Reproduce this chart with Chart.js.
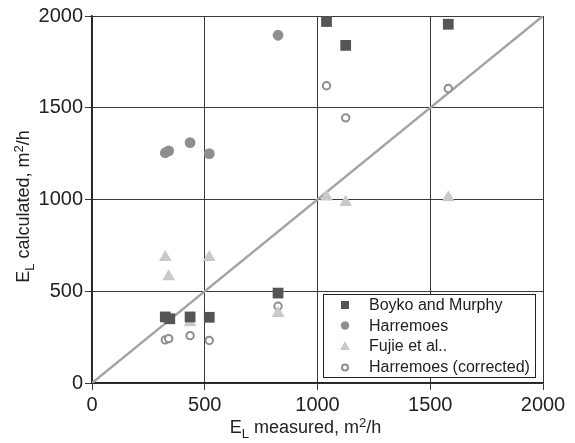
<!DOCTYPE html>
<html>
<head>
<meta charset="utf-8">
<script src="https://cdn.jsdelivr.net/npm/chart.js@4/dist/chart.umd.min.js"></script>
<style>
  html, body { margin: 0; padding: 0; background: #fff; }
  #wrap { width: 575px; height: 443px; }
</style>
</head>
<body>
<div id="wrap"><canvas id="chart" width="575" height="443"></canvas></div>
<script>
//? Data: E_L measured (x) vs E_L calculated (y), m2/h
const boykoX = [325, 345, 435, 520, 825, 1040, 1125, 1580];
const boykoY = [360, 350, 360, 358, 490, 1970, 1840, 1955];

const harrX = [325, 340, 435, 520, 825];
const harrY = [1255, 1265, 1310, 1250, 1895];

const fujieX = [325, 340, 435, 520, 825, 1040, 1125, 1580];
const fujieY = [685, 580, 330, 685, 380, 1015, 985, 1010];

const corrX = [325, 340, 435, 520, 825, 1040, 1125, 1580];
const corrY = [235, 242, 258, 232, 418, 1620, 1445, 1605];

// 1:1 line
const lineX = [0, 2000];
const lineY = [0, 2000];

const tickVals = [0, 500, 1000, 1500, 2000];

const FONT = "'Liberation Sans', Arial, Helvetica, sans-serif";

const pts = (xs, ys) => xs.map((x, i) => ({ x: x, y: ys[i] }));

// draws text made of pieces (subscript / superscript)
function drawRich(ctx, parts, cx, cy) {
  let w = 0;
  parts.forEach(p => {
    ctx.font = `${p.size}px ${FONT}`;
    p.w = ctx.measureText(p.t).width;
    w += p.w;
  });
  let x = cx - w / 2;
  parts.forEach(p => {
    ctx.font = `${p.size}px ${FONT}`;
    ctx.fillText(p.t, x, cy + (p.dy || 0));
    x += p.w;
  });
}

const titles = {
  id: 'titles',
  afterDraw(chart) {
    const ctx = chart.ctx;
    const a = chart.chartArea;
    ctx.save();
    ctx.fillStyle = '#222';
    ctx.textAlign = 'left';
    ctx.textBaseline = 'alphabetic';
    drawRich(ctx, [
      { t: 'E', size: 18 },
      { t: 'L', size: 13, dy: 5 },
      { t: ' measured, m', size: 18 },
      { t: '2', size: 13, dy: -6 },
      { t: '/h', size: 18 }
    ], (a.left + a.right) / 2 - 12, a.bottom + 50);

    ctx.translate(29, (a.top + a.bottom) / 2 + 7);
    ctx.rotate(-Math.PI / 2);
    drawRich(ctx, [
      { t: 'E', size: 18 },
      { t: 'L', size: 13, dy: 5 },
      { t: ' calculated, m', size: 18 },
      { t: '2', size: 13, dy: -6 },
      { t: '/h', size: 18 }
    ], 0, 0);
    ctx.restore();
  }
};

// legend box inside the plot, bottom right
const boxLegend = {
  id: 'boxLegend',
  afterDraw(chart) {
    const ctx = chart.ctx;
    const a = chart.chartArea;
    const sets = chart.data.datasets.filter(d => d.type !== 'line');
    const right = a.right - 8, bottom = a.bottom - 6;
    const left = right - 212, top = bottom - 83;
    ctx.save();
    ctx.fillStyle = '#fff';
    ctx.fillRect(left, top, right - left, bottom - top);
    ctx.strokeStyle = '#222';
    ctx.lineWidth = 1;
    ctx.strokeRect(left + 0.5, top + 0.5, right - left, bottom - top);
    ctx.font = `16px ${FONT}`;
    ctx.textBaseline = 'middle';
    sets.forEach((d, i) => {
      const y = top + 11 + i * 20.5;
      const x = left + 22;
      ctx.fillStyle = d.backgroundColor;
      ctx.strokeStyle = d.borderColor;
      if (d.pointStyle === 'rect') {
        ctx.fillRect(x - 4, y - 4, 8, 8);
      } else if (d.pointStyle === 'triangle') {
        ctx.beginPath();
        ctx.moveTo(x, y - 5);
        ctx.lineTo(x + 5, y + 4);
        ctx.lineTo(x - 5, y + 4);
        ctx.closePath();
        ctx.fill();
      } else if (d.pointBorderWidth > 0) {
        ctx.lineWidth = 2;
        ctx.beginPath();
        ctx.arc(x, y + 1, 3, 0, Math.PI * 2);
        ctx.fill();
        ctx.stroke();
      } else {
        ctx.beginPath();
        ctx.arc(x, y, 4.2, 0, Math.PI * 2);
        ctx.fill();
      }
      ctx.fillStyle = '#222';
      ctx.fillText(d.label, left + 46, y + 1);
    });
    ctx.restore();
  }
};

const ctx = document.getElementById('chart').getContext('2d');
new Chart(ctx, {
  type: 'scatter',
  data: {
    datasets: [
      {
        label: 'Boyko and Murphy',
        data: pts(boykoX, boykoY),
        pointStyle: 'rect',
        pointRadius: 7.6,
        pointBorderWidth: 0,
        backgroundColor: '#555555',
        borderColor: '#555555'
      },
      {
        label: 'Harremoes',
        data: pts(harrX, harrY),
        pointStyle: 'circle',
        pointRadius: 5.4,
        pointBorderWidth: 0,
        backgroundColor: '#8e8e8e',
        borderColor: '#8e8e8e'
      },
      {
        label: 'Fujie et al..',
        data: pts(fujieX, fujieY),
        pointStyle: 'triangle',
        pointRadius: 7.4,
        pointBorderWidth: 0,
        backgroundColor: '#c9c9c9',
        borderColor: '#c9c9c9'
      },
      {
        label: 'Harremoes (corrected)',
        data: pts(corrX, corrY),
        pointStyle: 'circle',
        pointRadius: 3.7,
        pointBorderWidth: 2,
        backgroundColor: '#ffffff',
        borderColor: '#8e8e8e'
      },
      {
        type: 'line',
        label: '1:1',
        data: pts(lineX, lineY),
        borderColor: '#a3a3a3',
        borderWidth: 2.5,
        pointRadius: 0,
        fill: false
      }
    ]
  },
  options: {
    responsive: false,
    animation: false,
    layout: { padding: { left: 0, top: 16, right: 32, bottom: 0 } },
    plugins: {
      legend: { display: false },
      tooltip: { enabled: false }
    },
    scales: {
      x: {
        type: 'linear',
        min: 0,
        max: 2000,
        afterBuildTicks: s => { s.ticks = tickVals.map(v => ({ value: v })); },
        afterFit: s => { s.height = 60; },
        grid: { color: '#3a3a3a', lineWidth: 1, tickLength: 7, drawTicks: true },
        border: { color: '#222', width: 1.5 },
        ticks: { color: '#222', padding: 3, font: { family: FONT, size: 20 }, callback: v => String(v) }
      },
      y: {
        type: 'linear',
        min: 0,
        max: 2000,
        afterBuildTicks: s => { s.ticks = tickVals.map(v => ({ value: v })); },
        afterFit: s => { s.width = 92; },
        grid: { color: '#3a3a3a', lineWidth: 1, tickLength: 7, drawTicks: true },
        border: { color: '#222', width: 1.5 },
        ticks: { color: '#222', padding: 2, font: { family: FONT, size: 20 }, callback: v => String(v) }
      }
    }
  },
  plugins: [titles, boxLegend]
});
</script>
</body>
</html>
